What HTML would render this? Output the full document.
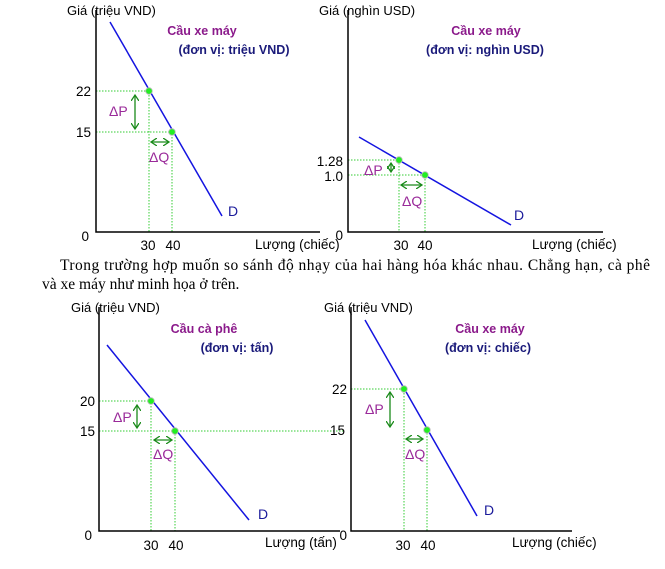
<!DOCTYPE html>
<html><head><meta charset="utf-8"><style>
html,body{margin:0;padding:0;background:#fff;width:665px;height:569px;overflow:hidden}
svg{display:block}
.a{font-family:"Liberation Sans",sans-serif;font-size:13px;fill:#000}
.t{font-family:"Liberation Sans",sans-serif;font-size:13.5px;fill:#000}
.ti{font-family:"Liberation Sans",sans-serif;font-size:12.5px;font-weight:bold;fill:#8b1a8b}
.un{font-family:"Liberation Sans",sans-serif;font-size:12.5px;font-weight:bold;fill:#1a1a7a}
.d{font-family:"Liberation Sans",sans-serif;font-size:14px;fill:#1a1a9a}
.dl{font-family:"Liberation Sans",sans-serif;font-size:14px;fill:#9a2a9a}
.p{font-family:"Liberation Serif",serif;font-size:15.5px;fill:#000}
</style></head><body>
<svg width="665" height="569" viewBox="0 0 665 569">
<defs>
<marker id="ah" markerWidth="8" markerHeight="8" refX="6" refY="4" orient="auto-start-reverse" markerUnits="userSpaceOnUse">
<path d="M0,0 L6,4 L0,8" fill="none" stroke="#1a8a1a" stroke-width="1.3"/></marker>
</defs>
<g stroke-dasharray="1.5,1.5" stroke="#3c3" stroke-width="1" fill="none">
<path d="M96,91H149V232M96,132H172V232"/>
<path d="M348,160H399V232M348,175H425V232"/>
<path d="M99,401H151V531M99,431H345M175,431V531"/>
<path d="M351,389H404V531M427,430V531"/>
</g>
<g stroke="#000" stroke-width="1.5" fill="none">
<path d="M96,10V232H320"/>
<path d="M348,10V232H603"/>
<path d="M99,307V531H340"/>
<path d="M351,307V531H572"/>
</g>
<g stroke="#1414e0" stroke-width="1.5">
<line x1="110" y1="22" x2="222" y2="216"/>
<line x1="359" y1="137" x2="511" y2="225"/>
<line x1="107" y1="345" x2="249" y2="520"/>
<line x1="365" y1="320" x2="477" y2="516"/>
</g>
<g fill="#22ee22" stroke="#bbb" stroke-width="0.8">
<circle cx="149" cy="91" r="3.3"/><circle cx="172" cy="132" r="3.3"/>
<circle cx="399" cy="160" r="3.3"/><circle cx="425" cy="175" r="3.3"/>
<circle cx="151" cy="401" r="3.3"/><circle cx="175" cy="431" r="3.3"/>
<circle cx="404" cy="389" r="3.3"/><circle cx="427" cy="430" r="3.3"/>
</g>
<g stroke="#1a8a1a" stroke-width="1.3" fill="none">
<line x1="135" y1="95" x2="135" y2="129" marker-start="url(#ah)" marker-end="url(#ah)"/>
<line x1="151" y1="142" x2="169" y2="142" marker-start="url(#ah)" marker-end="url(#ah)"/>
<line x1="391" y1="163" x2="391" y2="172" marker-start="url(#ah)" marker-end="url(#ah)"/>
<line x1="401" y1="185" x2="422" y2="185" marker-start="url(#ah)" marker-end="url(#ah)"/>
<line x1="137" y1="405" x2="137" y2="428" marker-start="url(#ah)" marker-end="url(#ah)"/>
<line x1="154" y1="440" x2="172" y2="440" marker-start="url(#ah)" marker-end="url(#ah)"/>
<line x1="390" y1="392" x2="390" y2="427" marker-start="url(#ah)" marker-end="url(#ah)"/>
<line x1="406" y1="439" x2="423" y2="439" marker-start="url(#ah)" marker-end="url(#ah)"/>
</g>
<text class="a" x="67" y="15">Giá (triệu VND)</text>
<text class="ti" x="202" y="35" text-anchor="middle">Cầu xe máy</text>
<text class="un" x="234" y="54" text-anchor="middle">(đơn vị: triệu VND)</text>
<text class="t" x="91" y="96" text-anchor="end">22</text>
<text class="t" x="91" y="137" text-anchor="end">15</text>
<text class="t" x="89" y="241" text-anchor="end">0</text>
<text class="t" x="148" y="250" text-anchor="middle">30</text>
<text class="t" x="173" y="250" text-anchor="middle">40</text>
<text class="dl" x="109" y="116">ΔP</text>
<text class="dl" x="149" y="162">ΔQ</text>
<text class="d" x="228" y="216">D</text>
<text class="t" x="255" y="249">Lượng (chiếc)</text>
<text class="a" x="319" y="15">Giá (nghìn USD)</text>
<text class="ti" x="486" y="35" text-anchor="middle">Cầu xe máy</text>
<text class="un" x="485" y="54" text-anchor="middle">(đơn vị: nghìn USD)</text>
<text class="t" x="343" y="166" text-anchor="end">1.28</text>
<text class="t" x="343" y="181" text-anchor="end">1.0</text>
<text class="t" x="343" y="240" text-anchor="end">0</text>
<text class="t" x="401" y="250" text-anchor="middle">30</text>
<text class="t" x="425" y="250" text-anchor="middle">40</text>
<text class="dl" x="364" y="175">ΔP</text>
<text class="dl" x="402" y="206">ΔQ</text>
<text class="d" x="514" y="220">D</text>
<text class="t" x="532" y="249">Lượng (chiếc)</text>
<text class="p" x="60" y="270" textLength="590" lengthAdjust="spacing">Trong trường hợp muốn so sánh độ nhạy của hai hàng hóa khác nhau. Chẳng hạn, cà phê</text>
<text class="p" x="42" y="289">và xe máy như minh họa ở trên.</text>
<text class="a" x="71" y="312">Giá (triệu VND)</text>
<text class="ti" x="204" y="333" text-anchor="middle">Cầu cà phê</text>
<text class="un" x="237" y="352" text-anchor="middle">(đơn vị: tấn)</text>
<text class="t" x="95" y="406" text-anchor="end">20</text>
<text class="t" x="95" y="436" text-anchor="end">15</text>
<text class="t" x="92" y="540" text-anchor="end">0</text>
<text class="t" x="151" y="550" text-anchor="middle">30</text>
<text class="t" x="176" y="550" text-anchor="middle">40</text>
<text class="dl" x="113" y="422">ΔP</text>
<text class="dl" x="153" y="459">ΔQ</text>
<text class="d" x="258" y="519">D</text>
<text class="t" x="265" y="547">Lượng (tấn)</text>
<text class="a" x="324" y="312">Giá (triệu VND)</text>
<text class="ti" x="490" y="333" text-anchor="middle">Cầu xe máy</text>
<text class="un" x="488" y="352" text-anchor="middle">(đơn vị: chiếc)</text>
<text class="t" x="347" y="394" text-anchor="end">22</text>
<text class="t" x="345" y="435" text-anchor="end">15</text>
<text class="t" x="347" y="540" text-anchor="end">0</text>
<text class="t" x="403" y="550" text-anchor="middle">30</text>
<text class="t" x="428" y="550" text-anchor="middle">40</text>
<text class="dl" x="365" y="414">ΔP</text>
<text class="dl" x="405" y="459">ΔQ</text>
<text class="d" x="484" y="515">D</text>
<text class="t" x="512" y="547">Lượng (chiếc)</text>
</svg>
</body></html>
